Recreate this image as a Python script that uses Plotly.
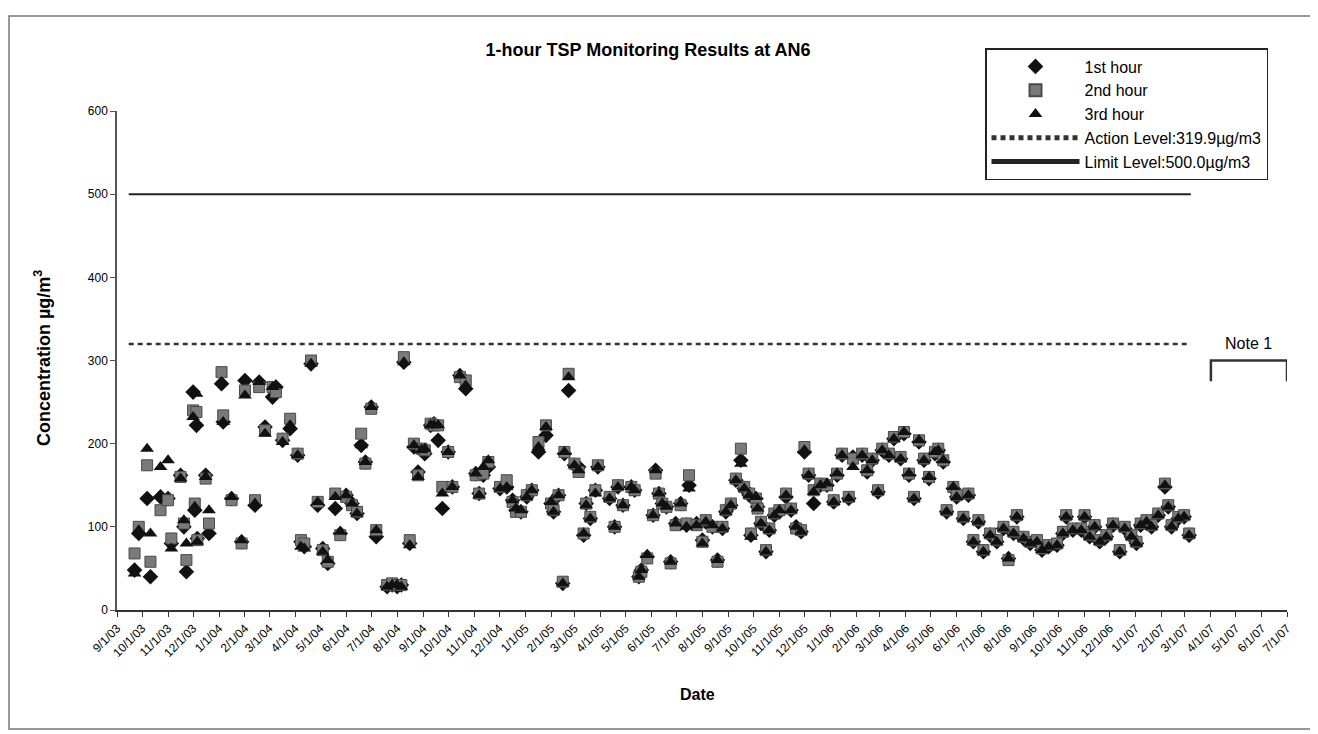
import plotly.graph_objects as go

# monitoring dates and 1-hour TSP results (ug/m3)
dates = [
    '2003-09-22', '2003-09-27', '2003-10-07', '2003-10-11', '2003-10-23', '2003-11-01', '2003-11-05',
    '2003-11-16', '2003-11-20', '2003-11-23', '2003-12-01', '2003-12-03', '2003-12-05', '2003-12-06',
    '2003-12-16', '2003-12-20',
    '2004-01-04', '2004-01-06', '2004-01-16', '2004-01-28', '2004-02-01', '2004-02-13', '2004-02-18',
    '2004-02-25', '2004-03-05', '2004-03-09', '2004-03-17', '2004-03-26', '2004-04-04', '2004-04-08',
    '2004-04-12', '2004-04-20', '2004-04-28', '2004-05-04', '2004-05-10', '2004-05-19', '2004-05-25',
    '2004-06-01', '2004-06-08', '2004-06-14', '2004-06-19', '2004-06-24', '2004-07-01', '2004-07-07',
    '2004-07-20', '2004-07-26', '2004-08-01', '2004-08-06', '2004-08-09', '2004-08-16', '2004-08-21',
    '2004-08-26', '2004-08-30', '2004-09-03', '2004-09-10', '2004-09-14', '2004-09-19', '2004-09-24',
    '2004-10-01', '2004-10-06', '2004-10-15', '2004-10-22', '2004-11-03', '2004-11-07', '2004-11-12',
    '2004-11-18', '2004-12-02', '2004-12-10', '2004-12-17', '2004-12-21', '2004-12-27',
    '2005-01-03', '2005-01-09', '2005-01-17', '2005-01-26', '2005-02-01', '2005-02-04', '2005-02-10',
    '2005-02-15', '2005-02-17', '2005-02-22', '2005-03-01', '2005-03-06', '2005-03-12', '2005-03-15',
    '2005-03-20', '2005-03-26', '2005-03-29', '2005-04-12', '2005-04-18', '2005-04-22', '2005-04-28',
    '2005-05-08', '2005-05-12', '2005-05-17', '2005-05-20', '2005-05-27', '2005-06-03', '2005-06-06',
    '2005-06-10', '2005-06-14', '2005-06-19', '2005-06-24', '2005-06-30', '2005-07-06', '2005-07-13',
    '2005-07-16', '2005-07-25', '2005-08-01', '2005-08-05', '2005-08-13', '2005-08-19', '2005-08-25',
    '2005-08-29', '2005-09-04', '2005-09-10', '2005-09-16', '2005-09-20', '2005-09-26', '2005-09-28',
    '2005-10-04', '2005-10-06', '2005-10-10', '2005-10-16', '2005-10-20', '2005-10-26', '2005-11-01',
    '2005-11-09', '2005-11-15', '2005-11-21', '2005-11-27', '2005-12-01', '2005-12-06', '2005-12-12',
    '2005-12-20', '2005-12-28',
    '2006-01-05', '2006-01-09', '2006-01-15', '2006-01-23', '2006-01-28', '2006-02-08', '2006-02-14',
    '2006-02-20', '2006-02-27', '2006-03-04', '2006-03-12', '2006-03-18', '2006-03-26', '2006-03-30',
    '2006-04-05', '2006-04-11', '2006-04-17', '2006-04-23', '2006-04-29', '2006-05-06', '2006-05-10',
    '2006-05-16', '2006-05-20', '2006-05-28', '2006-06-01', '2006-06-09', '2006-06-15', '2006-06-21',
    '2006-06-27', '2006-07-03', '2006-07-11', '2006-07-19', '2006-07-27', '2006-08-02', '2006-08-08',
    '2006-08-12', '2006-08-20', '2006-08-28', '2006-09-05', '2006-09-11', '2006-09-19', '2006-09-29',
    '2006-10-06', '2006-10-10', '2006-10-18', '2006-10-28', '2006-11-01', '2006-11-07', '2006-11-13',
    '2006-11-19', '2006-11-27', '2006-12-05', '2006-12-13', '2006-12-19', '2006-12-27',
    '2007-01-02', '2007-01-07', '2007-01-14', '2007-01-20', '2007-01-28', '2007-02-05', '2007-02-09',
    '2007-02-13', '2007-02-21', '2007-02-28', '2007-03-06',
]

hour1 = [
    48, 92, 134, 40, 136, 134, 80, 162, 100, 46, 262, 120, 222, 86, 162, 92,
    272, 226, 134, 82, 276, 126, 274, 220, 256, 268, 204, 218, 186, 82, 76, 296, 126, 74, 56, 122, 92,
    138, 128, 116, 198, 178, 244, 88, 28, 30, 28, 30, 298, 80, 196, 166, 192, 188, 222, 224, 204, 122,
    190, 148, 282, 266, 164, 140, 162, 172, 146, 148, 132, 120, 118,
    136, 144, 190, 210, 128, 118, 138, 32, 188, 264, 174, 172, 90, 128, 110, 144, 172, 134, 100, 148, 126,
    148, 144, 40, 48, 64, 114, 168, 140, 128, 124, 58, 104, 128, 102, 150, 104, 84, 106, 100, 60, 98,
    118, 126, 156, 180, 146, 138, 90, 134, 124, 104, 70, 96, 114, 118, 136, 120, 100, 94, 190, 162, 128,
    150, 150,
    130, 162, 186, 134, 184, 186, 166, 180, 142, 192, 186, 206, 182, 212, 162, 134, 202, 180, 158, 188, 192,
    178, 118, 146, 136, 110, 138, 82, 106, 70, 90, 82, 98, 62, 92, 112, 86, 80, 82, 72, 76, 78,
    92, 112, 96, 96, 112, 88, 100, 82, 88, 102, 70, 98, 88,
    80, 102, 106, 100, 114, 148, 124, 100, 110, 112, 90,
]

hour2 = [
    68, 100, 174, 58, 120, 132, 86, 160, 104, 60, 240, 128, 238, 84, 158, 104,
    286, 234, 132, 80, 264, 132, 268, 216, 268, 262, 206, 230, 188, 84, 80, 300, 130, 72, 58, 140, 90,
    136, 126, 118, 212, 176, 242, 96, 30, 32, 30, 30, 304, 84, 200, 162, 194, 192, 224, 222, 222, 148,
    190, 148, 280, 276, 162, 140, 164, 178, 148, 156, 130, 118, 118,
    138, 144, 202, 222, 128, 120, 138, 34, 190, 284, 176, 166, 92, 128, 112, 144, 174, 136, 100, 150, 126,
    148, 144, 40, 46, 62, 114, 164, 140, 128, 124, 56, 102, 126, 104, 162, 102, 82, 108, 100, 58, 100,
    120, 128, 158, 194, 148, 140, 92, 134, 122, 106, 72, 98, 116, 120, 140, 122, 98, 96, 196, 164, 144,
    152, 150,
    132, 164, 188, 136, 182, 188, 168, 182, 144, 194, 188, 208, 184, 214, 164, 136, 204, 182, 160, 190, 194,
    180, 120, 148, 138, 112, 140, 84, 108, 72, 92, 84, 100, 60, 94, 114, 88, 82, 84, 74, 78, 80,
    94, 114, 98, 98, 114, 90, 102, 84, 90, 104, 72, 100, 90,
    82, 104, 108, 102, 116, 152, 126, 102, 112, 114, 92,
]

hour3 = [
    44, 96, 194, 92, 172, 180, 74, 158, 108, 80, 232, 124, 260, 82, 160, 120,
    274, 226, 136, 84, 258, 128, 274, 212, 268, 270, 202, 222, 186, 76, 74, 296, 130, 70, 60, 136, 94,
    138, 128, 116, 198, 178, 244, 96, 28, 30, 30, 28, 298, 78, 198, 160, 192, 194, 222, 222, 222, 140,
    190, 148, 282, 270, 164, 138, 172, 180, 146, 148, 132, 122, 120,
    136, 144, 196, 220, 130, 118, 138, 32, 190, 280, 174, 168, 92, 126, 110, 140, 172, 134, 100, 148, 126,
    148, 144, 40, 48, 66, 114, 168, 140, 128, 124, 58, 104, 128, 100, 146, 102, 80, 106, 102, 60, 98,
    118, 126, 156, 176, 146, 138, 88, 136, 122, 104, 70, 96, 114, 120, 138, 120, 100, 94, 192, 162, 142,
    150, 152,
    130, 164, 186, 134, 172, 186, 168, 180, 142, 192, 186, 206, 182, 214, 164, 134, 204, 180, 160, 190, 192,
    180, 118, 148, 136, 110, 138, 82, 106, 70, 90, 82, 98, 62, 92, 112, 86, 80, 82, 72, 76, 78,
    92, 112, 96, 96, 112, 88, 100, 82, 88, 102, 70, 98, 88,
    80, 102, 106, 100, 114, 150, 124, 100, 110, 112, 90,
]

action_level = 319.9
limit_level = 500.0
line_span = ['2003-09-15', '2007-03-08']

# note 1 bracket (no data period)
note_start, note_end = '2007-04-01', '2007-07-01'
note_top, note_bottom = 300, 275

font_name = 'Liberation Sans, Arial, sans-serif'

# the page body adds an 8px margin, so work in screen pixels and shift back
OFF = 8
W, H = 1318, 734
L, R, T, B = 117 - OFF, W - (1287 - OFF), 111 - OFF, H - (610 - OFF)
pw, ph = W - L - R, H - T - B
def px(x): return (x - OFF - L) / pw
def py(y): return (H - B - (y - OFF)) / ph

fig = go.Figure()

fig.add_trace(go.Scatter(
    x=dates, y=hour1, mode='markers', name='1st hour',
    marker=dict(symbol='diamond', size=12, color='#111111', line=dict(width=0))
))
fig.add_trace(go.Scatter(
    x=dates, y=hour2, mode='markers', name='2nd hour',
    marker=dict(symbol='square', size=11, color='#7a7a7a', line=dict(width=1, color='#4a4a4a'))
))
fig.add_trace(go.Scatter(
    x=dates, y=hour3, mode='markers', name='3rd hour',
    marker=dict(symbol='triangle-up', size=12, color='#111111', line=dict(width=0))
))
fig.add_trace(go.Scatter(
    x=line_span, y=[action_level] * 2, mode='lines',
    name='Action Level:319.9µg/m3',
    line=dict(color='#333333', width=2.5, dash='5px,4px')
))
fig.add_trace(go.Scatter(
    x=line_span, y=[limit_level] * 2, mode='lines',
    name='Limit Level:500.0µg/m3',
    line=dict(color='#222222', width=2)
))

# note bracket
fig.add_shape(type='path', xref='x', yref='y',
              path=f'M {note_start},{note_bottom} L {note_start},{note_top} L {note_end},{note_top} L {note_end},{note_bottom}',
              line=dict(color='#333333', width=2.5))
fig.add_annotation(x='2007-05-16', y=note_top + 8, xref='x', yref='y', text='Note 1',
                   showarrow=False, yanchor='bottom', font=dict(size=16, color='black'))

# axis titles placed where the reference has them
fig.add_annotation(x=px(697), y=py(694), xref='paper', yref='paper', text='<b>Date</b>',
                   showarrow=False, xanchor='center', yanchor='middle', font=dict(size=16))
fig.add_annotation(x=px(42), y=py(358), xref='paper', yref='paper',
                   text='<b>Concentration µg/m<sup>3</sup></b>', textangle=-90,
                   showarrow=False, xanchor='center', yanchor='middle', font=dict(size=18))

# page frame
fig.add_shape(type='rect', xref='paper', yref='paper',
              x0=px(9), x1=px(1314), y0=py(729), y1=py(16),
              line=dict(color='#777777', width=1.5))

fig.update_layout(
    width=W, height=H,
    margin=dict(l=L, r=R, t=T, b=B),
    paper_bgcolor='white', plot_bgcolor='white',
    font=dict(family=font_name, color='black', size=12),
    title=dict(text='<b>1-hour TSP Monitoring Results at AN6</b>', x=(648 - OFF) / W, xanchor='center',
               y=1 - (50 - OFF) / H, yanchor='middle', font=dict(size=18)),
    legend=dict(x=px(985), y=py(48), xanchor='left', yanchor='top',
                bordercolor='#222222', borderwidth=1.5, bgcolor='white',
                font=dict(size=16), itemwidth=88, tracegroupgap=0,
                itemsizing='constant'),
    showlegend=True,
)

fig.update_xaxes(
    range=['2003-09-01', '2007-07-01'], tick0='2003-09-01', dtick='M1',
    tickformat='%-m/%-d/%y', tickangle=-45, tickfont=dict(size=12),
    showgrid=False, zeroline=False, showline=True, linecolor='#333333', linewidth=1.5,
    ticks='outside', ticklen=5, tickcolor='#333333',
)
fig.update_yaxes(
    range=[0, 600], dtick=100, tickfont=dict(size=12),
    showgrid=False, zeroline=False, showline=True, linecolor='#555555', linewidth=1.5,
    ticks='outside', ticklen=5, tickcolor='#555555',
)

fig.write_html('out.html')
